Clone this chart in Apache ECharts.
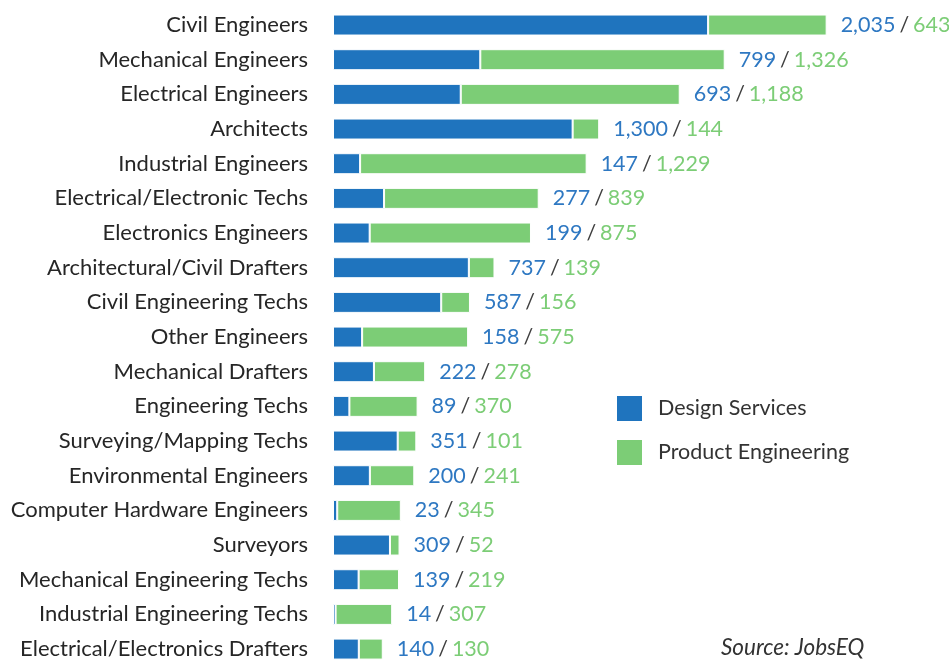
<!DOCTYPE html>
<html>
<head>
<meta charset="utf-8">
<script src="https://cdn.jsdelivr.net/npm/echarts@6/dist/echarts.min.js"></script>
<style>
  html, body { margin: 0; padding: 0; background: #fff; }
  #chart { width: 949px; height: 661px; }
</style>
</head>
<body>
<div id="chart"></div>
<script>
const occupations = [
  'Civil Engineers', 'Mechanical Engineers', 'Electrical Engineers', 'Architects',
  'Industrial Engineers', 'Electrical/Electronic Techs', 'Electronics Engineers',
  'Architectural/Civil Drafters', 'Civil Engineering Techs', 'Other Engineers',
  'Mechanical Drafters', 'Engineering Techs', 'Surveying/Mapping Techs',
  'Environmental Engineers', 'Computer Hardware Engineers', 'Surveyors',
  'Mechanical Engineering Techs', 'Industrial Engineering Techs',
  'Electrical/Electronics Drafters'
];
const designServices = [2035, 799, 693, 1300, 147, 277, 199, 737, 587, 158, 222, 89, 351, 200, 23, 309, 139, 14, 140];
const productEngineering = [643, 1326, 1188, 144, 1229, 839, 875, 139, 156, 575, 278, 370, 101, 241, 345, 52, 219, 307, 130];

const BLUE = '#1f74be';
const GREEN = '#7ccd76';
const FONT = 'Lato';
const FS = 21.5;

const chart = echarts.init(document.getElementById('chart'));
const fmt = v => v.toLocaleString('en-US');

chart.setOption({
  animation: false,
  textStyle: { fontFamily: FONT },
  grid: { left: 333, top: 7.7, width: 553, height: 658.7, outerBoundsMode: 'none' },
  xAxis: {
    type: 'value', min: 0, max: 3000,
    show: false
  },
  yAxis: {
    type: 'category',
    data: occupations,
    inverse: true,
    axisLine: { show: false },
    axisTick: { show: false },
    axisLabel: { margin: 25, fontSize: 22, color: '#262626', fontFamily: FONT }
  },
  legend: {
    orient: 'vertical',
    left: 617, top: 396, padding: 0,
    itemWidth: 25, itemHeight: 25, itemGap: 19,
    icon: 'rect',
    itemStyle: { borderWidth: 0 },
    textStyle: { fontSize: FS, lineHeight: 25, color: '#333', fontFamily: FONT, padding: [0, 0, 0, 11] },
    data: ['Design Services', 'Product Engineering']
  },
  graphic: [{
    type: 'text', left: 721, top: 636,
    style: { text: 'Source: JobsEQ', fontSize: 22.5, fontStyle: 'italic', fill: '#333', fontFamily: FONT }
  }],
  series: [
    {
      name: 'Design Services', type: 'bar', stack: 'total', barWidth: 21,
      data: designServices,
      itemStyle: { color: BLUE, borderColor: '#fff', borderWidth: 1 }
    },
    {
      name: 'Product Engineering', type: 'bar', stack: 'total', barWidth: 21,
      data: productEngineering,
      itemStyle: { color: GREEN, borderColor: '#fff', borderWidth: 1 },
      label: {
        show: true, position: 'right', distance: 14,
        formatter: p => '{a|' + fmt(designServices[p.dataIndex]) + '}{s|/}{b|' + fmt(p.value) + '}',
        rich: {
          a: { fontSize: FS, color: '#2e78c2', fontFamily: FONT },
          s: { fontSize: FS, color: '#404040', fontFamily: FONT, padding: [0, 4] },
          b: { fontSize: FS, color: '#7ccd76', fontFamily: FONT }
        }
      }
    }
  ]
});
</script>
</body>
</html>
